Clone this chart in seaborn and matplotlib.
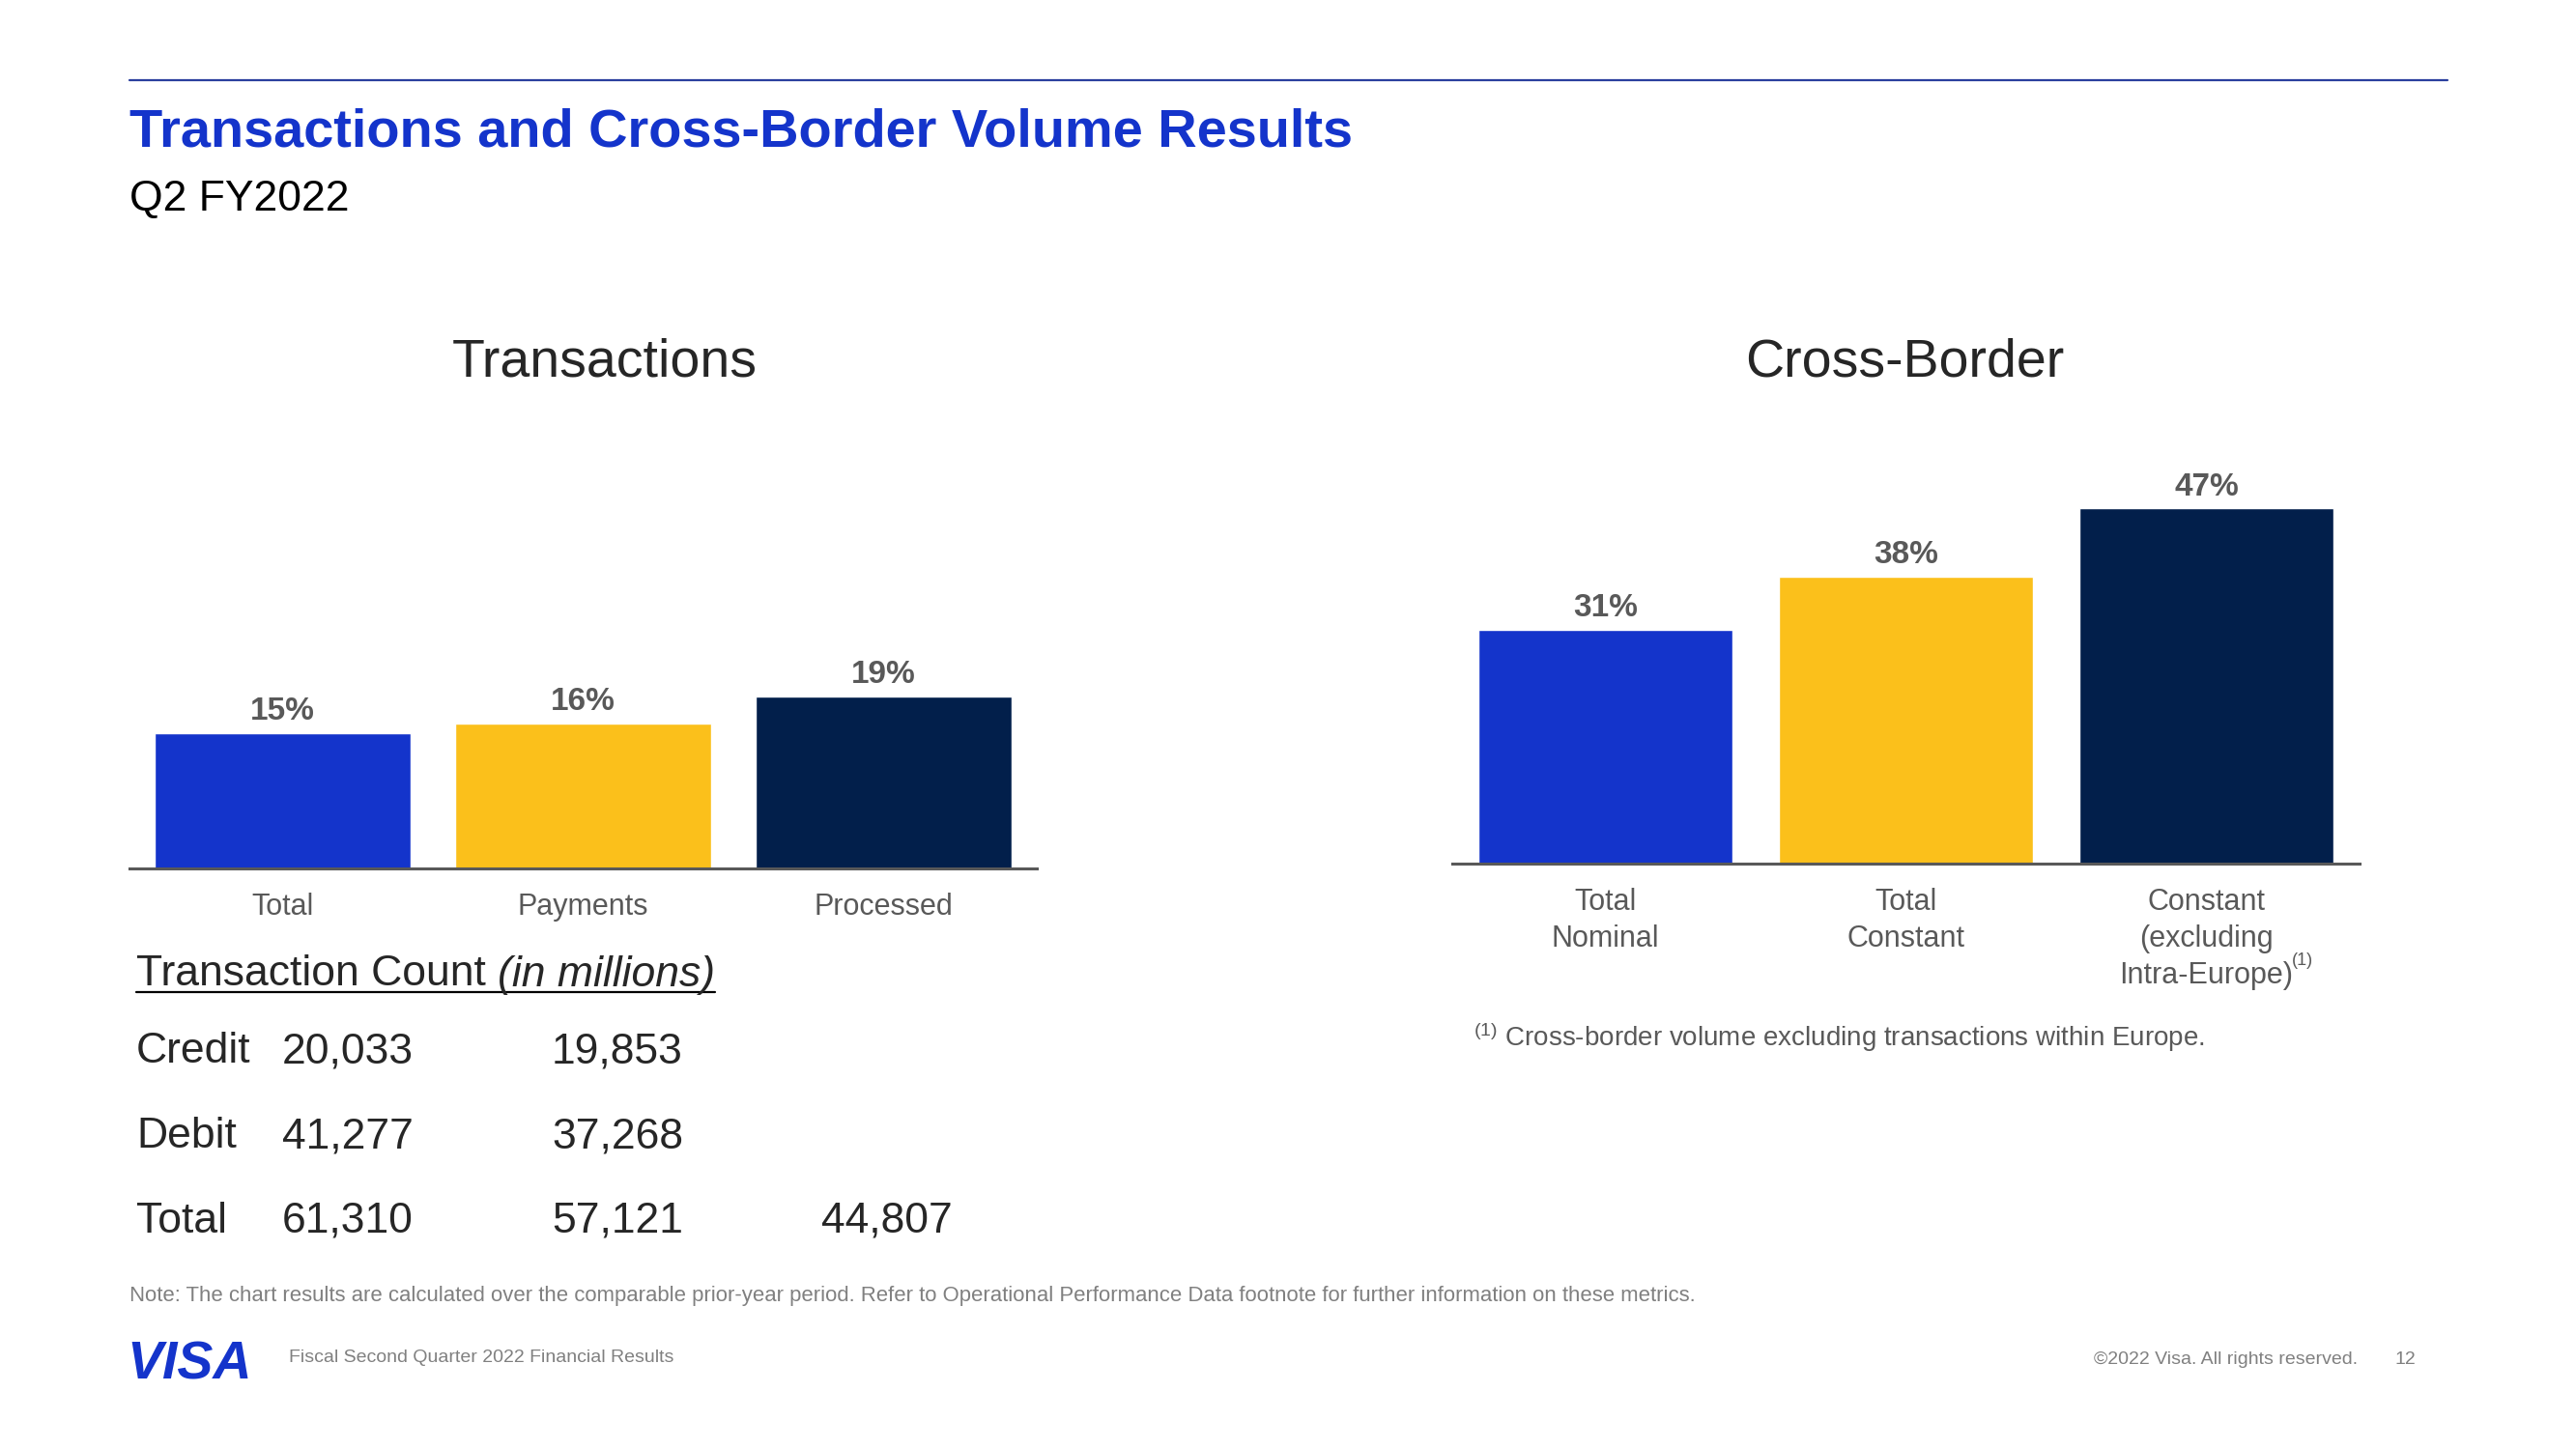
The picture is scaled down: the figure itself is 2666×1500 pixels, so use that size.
import numpy as np
import pandas as pd
import matplotlib
matplotlib.use("Agg")
import matplotlib.pyplot as plt
import seaborn as sns
from matplotlib.lines import Line2D

# =========================================================
# DATA
# =========================================================

txn_categories = ["Total", "Payments", "Processed"]
txn_growth = [15, 16, 19]

xb_categories = ["Total\nNominal", "Total\nConstant", "Constant\n(excluding\nIntra-Europe)"]
xb_growth = [31, 38, 47]

count_rows = ["Credit", "Debit", "Total"]
count_total = [20033, 41277, 61310]
count_payments = [19853, 37268, 57121]
count_processed = [None, None, 44807]

bar_colors = ["#1434CB", "#FBC01B", "#021F4B"]

# =========================================================
# STYLE
# =========================================================

sns.set_style("white")
plt.rcParams["font.family"] = ["Liberation Sans", "DejaVu Sans"]
plt.rcParams.update({
    "mathtext.fontset": "custom",
    "mathtext.rm": "Liberation Sans",
    "mathtext.it": "Liberation Sans:italic",
    "mathtext.bf": "Liberation Sans:bold",
})

GRAY = "#595959"
LIGHT = "#808080"
BLUE = "#1434CB"

W, H = 2666, 1500
fig = plt.figure(figsize=(W / 100, H / 100), dpi=100)


def fx(x):
    return x / W


def fy(y):
    return 1 - y / H


def style_axis(ax, ymax):
    ax.set_xlim(-0.51, 2.51)
    ax.set_ylim(0, ymax)
    ax.set_xlabel("")
    ax.set_ylabel("")
    ax.set_yticks([])
    for s in ["top", "right", "left"]:
        ax.spines[s].set_visible(False)
    ax.spines["bottom"].set_color(GRAY)
    ax.spines["bottom"].set_linewidth(2.2)
    ax.tick_params(axis="x", length=0, pad=18, labelsize=22, labelcolor=GRAY)
    for t in ax.get_xticklabels():
        t.set_linespacing(1.35)
    for c in ax.containers:
        ax.bar_label(c, fmt="%d%%", padding=5, fontsize=24,
                     fontweight="bold", color=GRAY)


# =========================================================
# LEFT CHART - TRANSACTIONS
# =========================================================

ax1 = fig.add_axes([fx(134), fy(899), fx(939), 280.5 / H])
df_txn = pd.DataFrame({"cat": txn_categories, "val": txn_growth})
sns.barplot(data=df_txn, x="cat", y="val", hue="cat", palette=bar_colors,
            width=0.85, saturation=1, legend=False, ax=ax1)
style_axis(ax1, 30)

# =========================================================
# RIGHT CHART - CROSS-BORDER
# =========================================================

ax2 = fig.add_axes([fx(1503), fy(894), fx(939), 469.2 / H])
df_xb = pd.DataFrame({"cat": xb_categories, "val": xb_growth})
sns.barplot(data=df_xb, x="cat", y="val", hue="cat", palette=bar_colors,
            width=0.845, saturation=1, legend=False, ax=ax2)
style_axis(ax2, 60)

lbl = ax2.get_xticklabels()[2]
ax2.annotate("(1)", xy=(1, 0), xycoords=lbl, xytext=(-1, 16),
             textcoords="offset points", fontsize=13, color=GRAY,
             ha="left", va="bottom")

# =========================================================
# HEADER
# =========================================================

fig.add_artist(Line2D([fx(134), fx(2533)], [fy(83), fy(83)],
                      color="#2A3F9E", lw=1.6))
fig.text(fx(134), fy(137), "Transactions and Cross-Border Volume Results",
         fontsize=40.3, fontweight="bold", color=BLUE, va="center")
fig.text(fx(134), fy(206), "Q2 FY2022", fontsize=32, color="black", va="center")

fig.text(fx(626), fy(375), "Transactions", fontsize=40, ha="center", va="center")
fig.text(fx(1971), fy(375), "Cross-Border", fontsize=40, ha="center", va="center")

fig.text(fx(1525), fy(1074),
         "$^{(1)}$ Cross-border volume excluding transactions within Europe.",
         fontsize=20, color=GRAY, va="center")

# =========================================================
# TRANSACTION COUNT TABLE
# =========================================================

renderer = fig.canvas.get_renderer()
t1 = fig.text(fx(141), fy(1009), "Transaction Count", fontsize=32, va="center")
bb1 = t1.get_window_extent(renderer=renderer)
t2 = fig.text((bb1.x1 + 12) / W, fy(1009), "(in millions)", fontsize=32,
              style="italic", va="center")
bb2 = t2.get_window_extent(renderer=renderer)
fig.add_artist(Line2D([fx(141), bb2.x1 / W], [fy(1027), fy(1027)],
                      color="black", lw=1.6))

row_y = [1089, 1177, 1264]
col_x = [292, 571, 850]
for i, row in enumerate(count_rows):
    fig.text(fx(141), fy(row_y[i]), row, fontsize=32, va="center")
    for j, col in enumerate([count_total, count_payments, count_processed]):
        v = col[i]
        if v is not None:
            fig.text(fx(col_x[j]), fy(row_y[i]), f"{v:,}", fontsize=32, va="center")

# =========================================================
# FOOTER
# =========================================================

fig.text(fx(134), fy(1342),
         "Note: The chart results are calculated over the comparable prior-year period. "
         "Refer to Operational Performance Data footnote for further information on these metrics.",
         fontsize=15.9, color=LIGHT, va="center")
fig.text(fx(131), fy(1413), "VISA", fontsize=40, fontweight="bold", style="italic",
         color=BLUE, va="center")
fig.text(fx(299), fy(1406), "Fiscal Second Quarter 2022 Financial Results",
         fontsize=14, color=LIGHT, va="center")
fig.text(fx(2440), fy(1408), "\u00a92022 Visa. All rights reserved.",
         fontsize=14, color=LIGHT, ha="right", va="center")
fig.text(fx(2500), fy(1408), "12", fontsize=14, color=LIGHT, ha="right", va="center")

fig.savefig("out.png", dpi=100, facecolor="white")
